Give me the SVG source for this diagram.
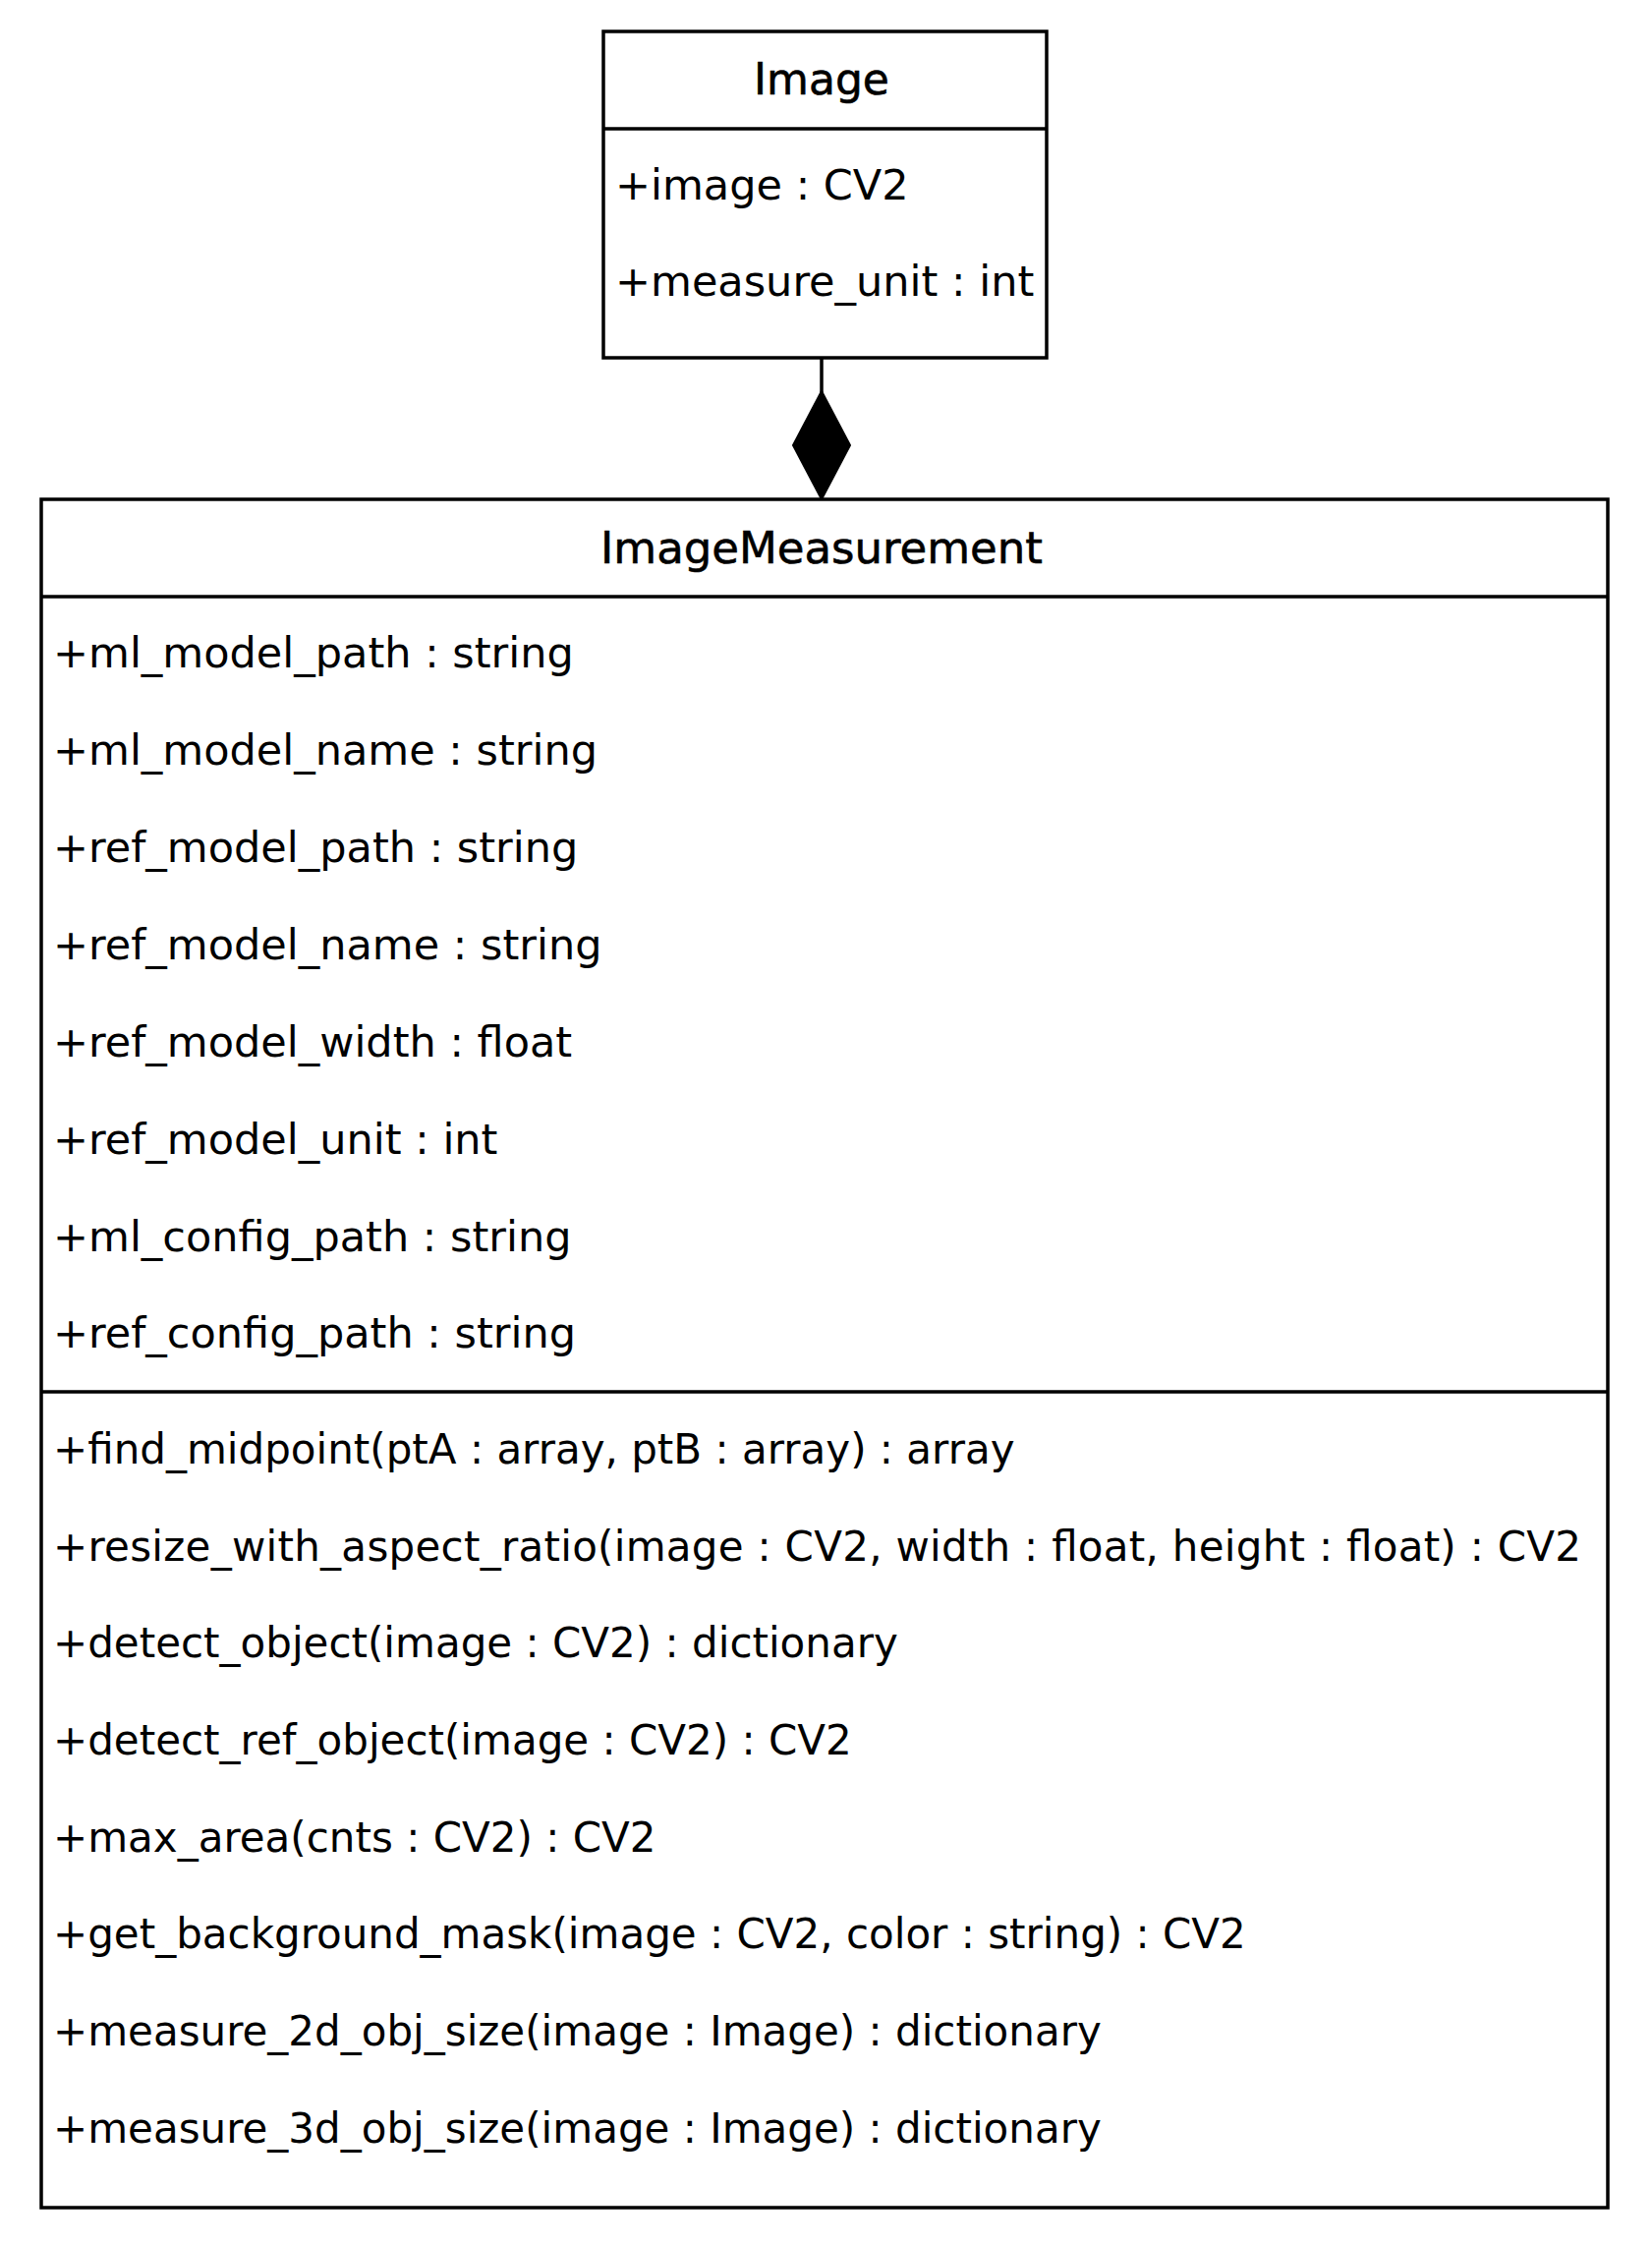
<svg xmlns="http://www.w3.org/2000/svg" width="1681" height="2283" viewBox="0 0 1681 2283">
<style>
.box{fill:#fff;stroke:#000;stroke-width:3.5}
.ln{stroke:#000;stroke-width:3.5;fill:none}
.t{font-family:"DejaVu Sans",sans-serif;font-size:43px;fill:#000}
.m{font-family:"DejaVu Sans",sans-serif;font-size:42px;fill:#000}
.h{font-family:"DejaVu Sans",sans-serif;font-size:44px;fill:#000;text-anchor:middle;stroke:#000;stroke-width:0.6}
</style>
<rect width="1681" height="2283" fill="#fff"/>
<g id="connectors">
<line class="ln" x1="836" y1="364" x2="836" y2="400"/>
<polygon points="836,398 865,453 836,508 807,453" fill="#000" stroke="#000" stroke-width="2"/>
</g>
<g id="Image">
<rect class="box" x="614" y="32" width="451" height="332"/>
<line class="ln" x1="614" y1="131" x2="1065" y2="131"/>
<text class="h" x="836" y="96">Image</text>
<text class="t" x="626" y="203">+image : CV2</text>
<text class="t" x="626" y="301">+measure_unit : int</text>
</g>
<g id="ImageMeasurement">
<rect class="box" x="42" y="508" width="1594" height="1738"/>
<line class="ln" x1="42" y1="607" x2="1636" y2="607"/>
<line class="ln" x1="42" y1="1416" x2="1636" y2="1416"/>
<text class="h" x="836" y="573" style="font-size:45px">ImageMeasurement</text>
<text class="t" x="54" y="679">+ml_model_path : string</text>
<text class="t" x="54" y="778">+ml_model_name : string</text>
<text class="t" x="54" y="877">+ref_model_path : string</text>
<text class="t" x="54" y="976">+ref_model_name : string</text>
<text class="t" x="54" y="1075">+ref_model_width : float</text>
<text class="t" x="54" y="1174">+ref_model_unit : int</text>
<text class="t" x="54" y="1273">+ml_config_path : string</text>
<text class="t" x="54" y="1371">+ref_config_path : string</text>
<text class="m" x="54" y="1489">+find_midpoint(ptA : array, ptB : array) : array</text>
<text class="m" x="54" y="1588" textLength="1555" lengthAdjust="spacing">+resize_with_aspect_ratio(image : CV2, width : float, height : float) : CV2</text>
<text class="m" x="54" y="1686">+detect_object(image : CV2) : dictionary</text>
<text class="m" x="54" y="1785">+detect_ref_object(image : CV2) : CV2</text>
<text class="m" x="54" y="1884">+max_area(cnts : CV2) : CV2</text>
<text class="m" x="54" y="1982">+get_background_mask(image : CV2, color : string) : CV2</text>
<text class="m" x="54" y="2081">+measure_2d_obj_size(image : Image) : dictionary</text>
<text class="m" x="54" y="2180">+measure_3d_obj_size(image : Image) : dictionary</text>
</g>
</svg>
